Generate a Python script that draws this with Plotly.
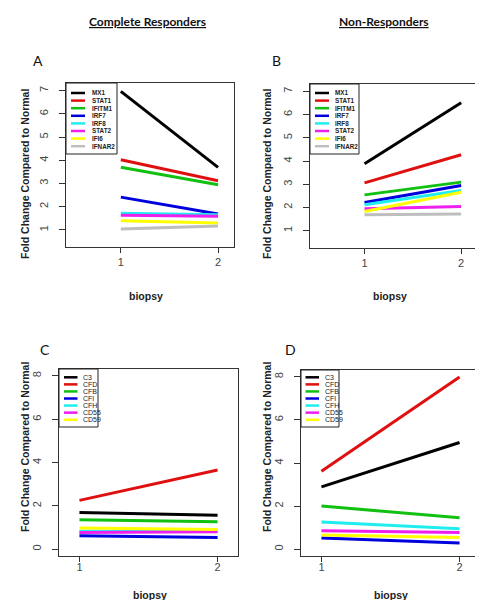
import plotly.graph_objects as go

W, H = 483, 600

biopsy = [1, 2]

# Panel A / B genes (interferon)
ifn_genes = ["MX1", "STAT1", "IFITM1", "IRF7", "IRF8", "STAT2", "IFI6", "IFNAR2"]
cr_ifn = {
    "MX1": [6.97, 3.69],
    "STAT1": [4.02, 3.12],
    "IFITM1": [3.70, 2.94],
    "IRF7": [2.41, 1.68],
    "IRF8": [1.72, 1.65],
    "STAT2": [1.63, 1.59],
    "IFI6": [1.39, 1.29],
    "IFNAR2": [1.04, 1.17],
}
nr_ifn = {
    "MX1": [3.88, 6.51],
    "STAT1": [3.06, 4.27],
    "IFITM1": [2.54, 3.09],
    "IRF7": [2.21, 2.94],
    "IRF8": [2.11, 2.73],
    "STAT2": [1.94, 2.04],
    "IFI6": [1.82, 2.65],
    "IFNAR2": [1.68, 1.72],
}

# Panel C / D genes (complement)
comp_genes = ["C3", "CFD", "CFB", "CFI", "CFH", "CD55", "CD59"]
cr_comp = {
    "C3": [1.69, 1.56],
    "CFD": [2.25, 3.65],
    "CFB": [1.35, 1.26],
    "CFI": [0.61, 0.54],
    "CFH": [0.82, 0.85],
    "CD55": [0.76, 0.80],
    "CD59": [0.97, 0.90],
}
nr_comp = {
    "C3": [2.89, 4.95],
    "CFD": [3.62, 8.00],
    "CFB": [2.00, 1.46],
    "CFI": [0.52, 0.28],
    "CFH": [1.26, 0.95],
    "CD55": [0.85, 0.77],
    "CD59": [0.66, 0.54],
}

colors = ["#000000", "#E01010", "#12C012", "#0000DD", "#20EEEE", "#EE20EE", "#FFFF00", "#BEBEBE"]

ytick_ab = [1, 2, 3, 4, 5, 6, 7]
ytick_cd = [0, 2, 4, 6, 8]

def px(x):
    return x / W

def py(y):
    return 1 - y / H

# panel boxes in pixels: (left, right, top, bottom)
boxes = {
    "A": (58, 226, 75, 239),
    "B": (302, 469, 76, 240),
    "C": (51, 230, 361, 548),
    "D": (293, 472, 362, 548),
}

fig = go.Figure()

panels = [
    ("A", 1, ifn_genes, cr_ifn, [0.436, 2.164], [0.26, 7.33], ytick_ab, 0),
    ("B", 2, ifn_genes, nr_ifn, [0.436, 2.164], [0.25, 7.32], ytick_ab, 0),
    ("C", 3, comp_genes, cr_comp, [0.852, 2.148], [-0.32, 8.32], ytick_cd, -4),
    ("D", 4, comp_genes, nr_comp, [0.852, 2.148], [-0.32, 8.32], ytick_cd, -4),
]

shapes = []
annotations = []
axis_color = "#333333"
tick_font = dict(family="Liberation Sans, Arial", size=11, color="#444444")
title_font = dict(family="Liberation Sans, Arial", size=10.5, color="#222222", weight="bold")

for name, i, genes, data, xr, yr, yt, standoff in panels:
    l, r, t, b = boxes[name]
    xa = "xaxis" if i == 1 else f"xaxis{i}"
    ya = "yaxis" if i == 1 else f"yaxis{i}"
    xref = "x" if i == 1 else f"x{i}"
    yref = "y" if i == 1 else f"y{i}"
    for g, c in zip(genes, colors):
        fig.add_trace(go.Scatter(x=biopsy, y=data[g], mode="lines", name=g,
                                 line=dict(color=c, width=3), xaxis=xref, yaxis=yref,
                                 showlegend=False))
    fig.layout[xa] = dict(domain=[px(l), px(r)], range=xr, anchor=yref,
                          tickvals=[1, 2], ticktext=["1", "2"], ticks="outside",
                          ticklen=5, tickcolor=axis_color, showline=True, mirror=True,
                          linecolor=axis_color, linewidth=1, showgrid=False, zeroline=False,
                          tickfont=tick_font, ticklabelstandoff=standoff)
    fig.layout[ya] = dict(domain=[py(b), py(t)], range=yr, anchor=xref,
                          tickvals=yt, ticks="outside", ticklen=6, tickcolor=axis_color,
                          showline=True, mirror=True, linecolor=axis_color, linewidth=1,
                          showgrid=False, zeroline=False, tickangle=-90, tickfont=tick_font,
                          ticklabelstandoff=7)

# axis titles
ytitle_pos = {"A": (17, 166), "B": (259, 166), "C": (17, 439), "D": (259, 439)}
xtitle_pos = {"A": (138, 288), "B": (382, 288), "C": (142, 587), "D": (383, 587)}
for name in "ABCD":
    x, y = ytitle_pos[name]
    annotations.append(dict(text="Fold Change Compared to Normal", x=px(x), y=py(y),
                            xref="paper", yref="paper", showarrow=False, textangle=-90,
                            font=title_font, xanchor="center", yanchor="middle"))
    x, y = xtitle_pos[name]
    annotations.append(dict(text="biopsy", x=px(x), y=py(y), xref="paper", yref="paper",
                            showarrow=False, font=title_font, xanchor="center", yanchor="middle"))

# panel letters
letter_pos = {"A": (30, 52), "B": (268, 52), "C": (37, 342), "D": (282, 342)}
for name, (x, y) in letter_pos.items():
    annotations.append(dict(text=name, x=px(x), y=py(y), xref="paper", yref="paper",
                            showarrow=False, xanchor="center", yanchor="middle",
                            font=dict(family="Lato, Liberation Sans", size=14, color="#111111")))

# headers
for txt, x in [("Complete Responders", 139), ("Non-Responders", 376)]:
    annotations.append(dict(text=txt, x=px(x), y=py(13), xref="paper", yref="paper",
                            showarrow=False, xanchor="center", yanchor="middle",
                            font=dict(family="Lato, Liberation Sans", size=12, color="#111111",
                                      weight="bold", lineposition="under")))

# legends
legend_spec = {
    # box right, box bottom, line x0, line x1, text x, first row y, row step, bold, font size
    "A": (109, 146, 63, 77, 81.5, 85, 7.6, True, 6.3),
    "B": (351, 146, 307, 321, 324.5, 85, 7.6, True, 6.3),
    "C": (90, 419, 56, 69.5, 72.5, 369.3, 7.07, False, 7),
    "D": (331, 419, 297.5, 311, 315, 369.3, 7.07, False, 7),
}
legend_genes = {"A": ifn_genes, "B": ifn_genes, "C": comp_genes, "D": comp_genes}
for name, (br, bb, lx0, lx1, tx, y0, dy, bold, fs) in legend_spec.items():
    l, r, t, b = boxes[name]
    shapes.append(dict(type="rect", xref="paper", yref="paper", x0=px(l), x1=px(br),
                       y0=py(bb), y1=py(t), line=dict(color="#222222", width=1),
                       fillcolor="white", layer="above"))
    for k, (g, c) in enumerate(zip(legend_genes[name], colors)):
        yy = y0 + k * dy
        shapes.append(dict(type="line", xref="paper", yref="paper", x0=px(lx0), x1=px(lx1),
                           y0=py(yy), y1=py(yy), line=dict(color=c, width=2.5), layer="above"))
        annotations.append(dict(text=g, x=px(tx), y=py(yy), xref="paper", yref="paper",
                                showarrow=False, xanchor="left", yanchor="middle",
                                font=dict(family="Liberation Sans, Arial", size=fs,
                                          color="#222222", weight="bold" if bold else "normal")))

fig.update_layout(width=W, height=H, margin=dict(l=0, r=0, t=0, b=0),
                  paper_bgcolor="white", plot_bgcolor="white", showlegend=False,
                  shapes=shapes, annotations=annotations)

fig.write_html("out.html")
